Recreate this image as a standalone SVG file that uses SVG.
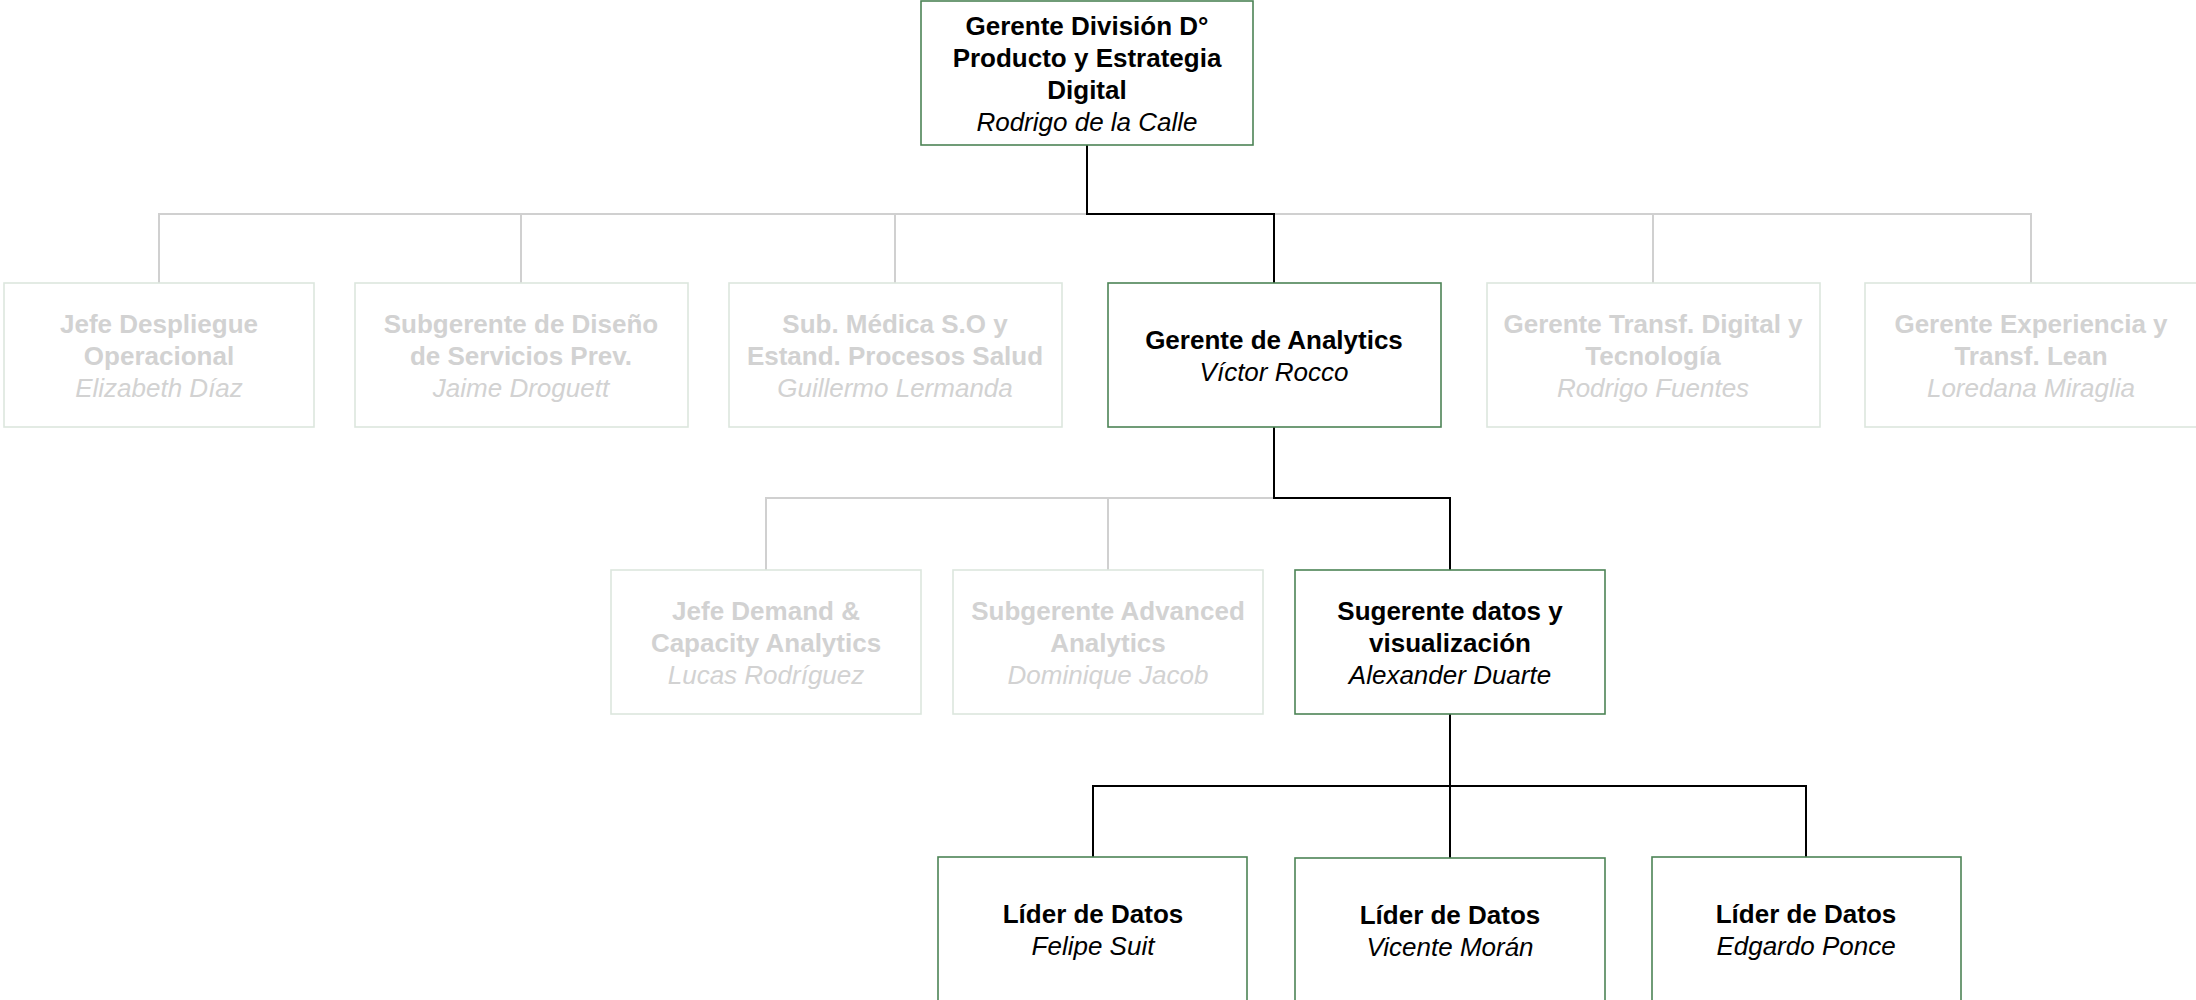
<svg xmlns="http://www.w3.org/2000/svg" width="2196" height="1000" viewBox="0 0 2196 1000">
<style>
.box{fill:#ffffff;stroke:#4d8456;stroke-width:1.6}
.gbox{fill:#ffffff;stroke:#dce7de;stroke-width:1.6}
.t{font-family:"Liberation Sans",Arial,sans-serif;font-size:26px;text-anchor:middle;fill:#000000}
.g .t{fill:#d2d2d2}
.b{font-weight:bold}
.i{font-style:italic}
.cg{fill:none;stroke:#d0d0d0;stroke-width:2}
.cb{fill:none;stroke:#000000;stroke-width:2}
</style>
<rect width="2196" height="1000" fill="#ffffff"/>
<g id="connectors">
  <path class="cg" d="M159,427 M159,283 V214 H2031 V283"/>
  <path class="cg" d="M521,214 V283 M895,214 V283 M1653,214 V283"/>
  <path class="cg" d="M766,570 V498 H1450 M1108,498 V570"/>
  <path class="cb" d="M1087,145 V214 H1274 V283"/>
  <path class="cb" d="M1274,427 V498 H1450 V570"/>
  <path class="cb" d="M1450,714 V786 M1093,857 V786 H1806 V857 M1450,786 V858"/>
</g>
<g id="n-top">
  <rect class="box" x="921" y="1" width="332" height="144"/>
  <text class="t b" x="1087" y="34.5">Gerente División D°</text>
  <text class="t b" x="1087" y="66.5">Producto y Estrategia</text>
  <text class="t b" x="1087" y="98.5">Digital</text>
  <text class="t i" x="1087" y="130.5">Rodrigo de la Calle</text>
</g>
<g id="n-despliegue" class="g">
  <rect class="gbox" x="4" y="283" width="310" height="144"/>
  <text class="t b" x="159" y="332.5">Jefe Despliegue</text>
  <text class="t b" x="159" y="364.5">Operacional</text>
  <text class="t i" x="159" y="396.5">Elizabeth Díaz</text>
</g>
<g id="n-diseno" class="g">
  <rect class="gbox" x="355" y="283" width="333" height="144"/>
  <text class="t b" x="521" y="332.5">Subgerente de Diseño</text>
  <text class="t b" x="521" y="364.5">de Servicios Prev.</text>
  <text class="t i" x="521" y="396.5">Jaime Droguett</text>
</g>
<g id="n-medica" class="g">
  <rect class="gbox" x="729" y="283" width="333" height="144"/>
  <text class="t b" x="895" y="332.5">Sub. Médica S.O y</text>
  <text class="t b" x="895" y="364.5">Estand. Procesos Salud</text>
  <text class="t i" x="895" y="396.5">Guillermo Lermanda</text>
</g>
<g id="n-analytics">
  <rect class="box" x="1108" y="283" width="333" height="144"/>
  <text class="t b" x="1274" y="348.5">Gerente de Analytics</text>
  <text class="t i" x="1274" y="380.5">Víctor Rocco</text>
</g>
<g id="n-transf" class="g">
  <rect class="gbox" x="1487" y="283" width="333" height="144"/>
  <text class="t b" x="1653" y="332.5">Gerente Transf. Digital y</text>
  <text class="t b" x="1653" y="364.5">Tecnología</text>
  <text class="t i" x="1653" y="396.5">Rodrigo Fuentes</text>
</g>
<g id="n-experiencia" class="g">
  <rect class="gbox" x="1865" y="283" width="332" height="144"/>
  <text class="t b" x="2031" y="332.5">Gerente Experiencia y</text>
  <text class="t b" x="2031" y="364.5">Transf. Lean</text>
  <text class="t i" x="2031" y="396.5">Loredana Miraglia</text>
</g>
<g id="n-demand" class="g">
  <rect class="gbox" x="611" y="570" width="310" height="144"/>
  <text class="t b" x="766" y="619.5">Jefe Demand &amp;</text>
  <text class="t b" x="766" y="651.5">Capacity Analytics</text>
  <text class="t i" x="766" y="683.5">Lucas Rodríguez</text>
</g>
<g id="n-advanced" class="g">
  <rect class="gbox" x="953" y="570" width="310" height="144"/>
  <text class="t b" x="1108" y="619.5">Subgerente Advanced</text>
  <text class="t b" x="1108" y="651.5">Analytics</text>
  <text class="t i" x="1108" y="683.5">Dominique Jacob</text>
</g>
<g id="n-datos">
  <rect class="box" x="1295" y="570" width="310" height="144"/>
  <text class="t b" x="1450" y="619.5">Sugerente datos y</text>
  <text class="t b" x="1450" y="651.5">visualización</text>
  <text class="t i" x="1450" y="683.5">Alexander Duarte</text>
</g>
<g id="n-felipe">
  <rect class="box" x="938" y="857" width="309" height="144"/>
  <text class="t b" x="1093" y="922.5">Líder de Datos</text>
  <text class="t i" x="1093" y="954.5">Felipe Suit</text>
</g>
<g id="n-vicente">
  <rect class="box" x="1295" y="858" width="310" height="144"/>
  <text class="t b" x="1450" y="923.5">Líder de Datos</text>
  <text class="t i" x="1450" y="955.5">Vicente Morán</text>
</g>
<g id="n-edgardo">
  <rect class="box" x="1652" y="857" width="309" height="144"/>
  <text class="t b" x="1806" y="922.5">Líder de Datos</text>
  <text class="t i" x="1806" y="954.5">Edgardo Ponce</text>
</g>
</svg>
